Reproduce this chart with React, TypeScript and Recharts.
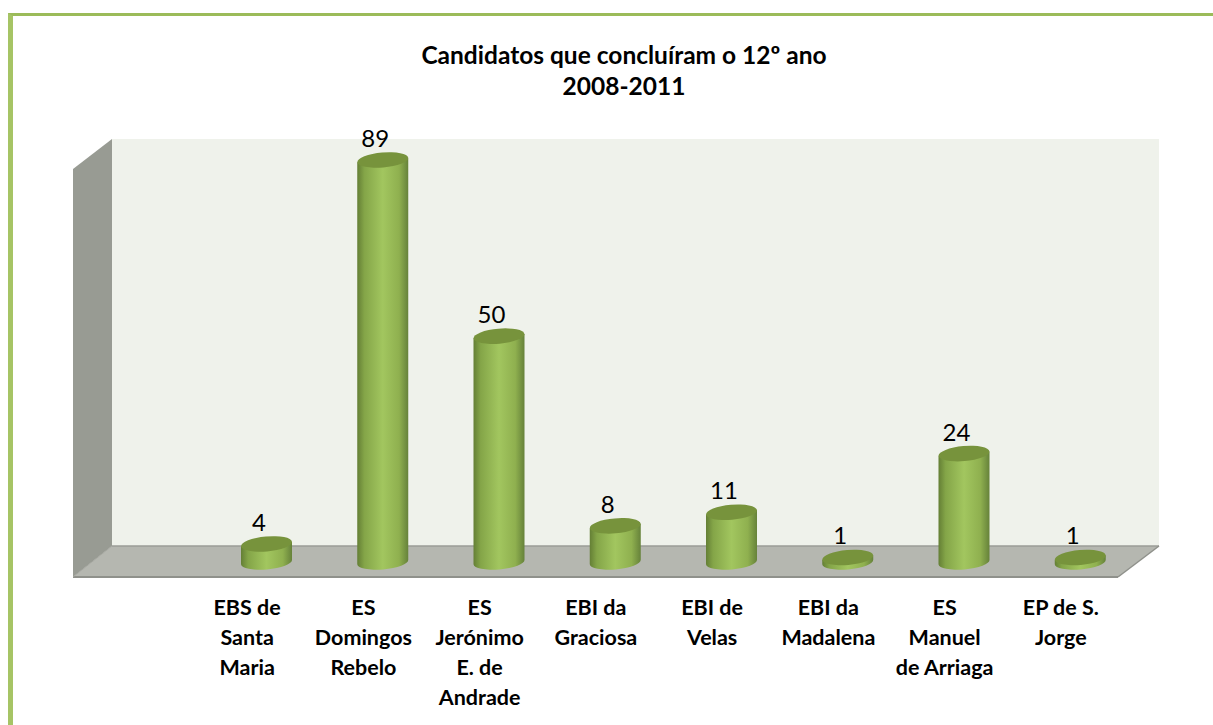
import { Bar, BarChart, LabelList, XAxis, YAxis, usePlotArea } from "recharts";

const schools = [
  "EBS de Santa Maria",
  "ES Domingos Rebelo",
  "ES Jerónimo E. de Andrade",
  "EBI da Graciosa",
  "EBI de Velas",
  "EBI da Madalena",
  "ES Manuel de Arriaga",
  "EP de S. Jorge",
];
const tickLines = [
  ["EBS de", "Santa", "Maria"],
  ["ES", "Domingos", "Rebelo"],
  ["ES", "Jerónimo", "E. de", "Andrade"],
  ["EBI da", "Graciosa"],
  ["EBI de", "Velas"],
  ["EBI da", "Madalena"],
  ["ES", "Manuel", "de Arriaga"],
  ["EP de S.", "Jorge"],
];
const candidates = [4, 89, 50, 8, 11, 1, 24, 1];

const data = schools.map((school, i) => ({ school, candidates: candidates[i] }));

const FONT = "Lato, Carlito, sans-serif";

// fake 3d box behind the bars, Excel style
function Walls() {
  const plot = usePlotArea();
  if (!plot) return null;
  const left = plot.x;
  const right = plot.x + plot.width;
  const top = plot.y;
  const bottom = plot.y + plot.height;
  const depth = 39;
  const back = bottom - 16;
  const front = bottom + 15;
  return (
    <g>
      <rect x={left + depth} y={top} width={plot.width - depth} height={back - top} fill="#eff2eb" />
      <polygon
        points={`${left},${top + 30} ${left + depth},${top} ${left + depth},${back} ${left},${front}`}
        fill="#989b93"
      />
      <polygon
        points={`${left},${front} ${left + depth},${back} ${right},${back} ${right - 41},${front}`}
        fill="#b5b7b0"
      />
      <line x1={left + depth} y1={back} x2={right} y2={back} stroke="#9b9d97" strokeWidth={1.5} />
      <line x1={left} y1={front} x2={right - 41} y2={front} stroke="#8f918b" strokeWidth={2} />
      <line x1={left} y1={front} x2={left + depth} y2={back} stroke="#a5a7a0" strokeWidth={1} />
      <line x1={right - 41} y1={front} x2={right} y2={back} stroke="#8f918b" strokeWidth={1.5} />
    </g>
  );
}

function Cylinder(props: any) {
  const { x, y, width, height } = props;
  const rx = width / 2;
  const ry = 7.5;
  const tilt = 2.2;
  const bottom = y + height;
  const cx = x + rx;
  return (
    <g>
      <path
        d={`M${x},${y + tilt} L${x},${bottom + tilt} A${rx},${ry} -5 0 0 ${x + width},${bottom - tilt} L${x + width},${y - tilt} Z`}
        fill="url(#cylinderBody)"
      />
      <ellipse
        cx={cx}
        cy={y}
        rx={rx}
        ry={ry}
        fill="#77933c"
        transform={`rotate(-5 ${cx} ${y})`}
      />
    </g>
  );
}

function SchoolTick(props: any) {
  const { x, payload, index } = props;
  const lines = tickLines[index] ?? [payload.value];
  return (
    <text x={x - 19} y={615} textAnchor="middle" fontFamily={FONT} fontWeight={700} fontSize={21.5} fill="#000">
      {lines.map((line: string, i: number) => (
        <tspan key={line} x={x - 19} dy={i === 0 ? 0 : 30}>
          {line}
        </tspan>
      ))}
    </text>
  );
}

export default function App() {
  return (
    <div style={{ position: "absolute", left: 0, top: 0, width: 1213, height: 725, overflow: "hidden", background: "#fff" }}>
      <div
        style={{
          position: "absolute",
          left: 8,
          top: 13,
          right: 0,
          bottom: 0,
          borderLeft: "5px solid #a6c465",
          borderTop: "3px solid #9bbb59",
        }}
      />
      <BarChart
        width={1213}
        height={725}
        data={data}
        margin={{ left: 73, right: 54, top: 139, bottom: 133 }}
        style={{ position: "absolute", left: 0, top: 0 }}
      >
        <defs>
          <linearGradient id="cylinderBody" x1="0" y1="0" x2="1" y2="0">
            <stop offset="0" stopColor="#647f35" />
            <stop offset="0.14" stopColor="#84a548" />
            <stop offset="0.5" stopColor="#a2c65f" />
            <stop offset="0.82" stopColor="#8fb04f" />
            <stop offset="1" stopColor="#66823a" />
          </linearGradient>
        </defs>
        <Walls />
        <text x={624} y={63.5} textAnchor="middle" fontFamily={FONT} fontWeight={700} fontSize={24.5} fill="#000">
          Candidatos que concluíram o 12º ano
        </text>
        <text x={624} y={94.5} textAnchor="middle" fontFamily={FONT} fontWeight={700} fontSize={24.5} fill="#000">
          2008-2011
        </text>
        <XAxis
          dataKey="school"
          axisLine={false}
          tickLine={false}
          interval={0}
          padding={{ left: 135, right: 21 }}
          tick={<SchoolTick />}
        />
        <YAxis hide domain={[0, 93.65]} />
        <Bar dataKey="candidates" barSize={51} shape={<Cylinder />} isAnimationActive={false}>
          <LabelList
            dataKey="candidates"
            position="top"
            offset={13}
            dx={-7.5}
            fontFamily={FONT}
            fontSize={24}
            fill="#000"
          />
        </Bar>
      </BarChart>
    </div>
  );
}
